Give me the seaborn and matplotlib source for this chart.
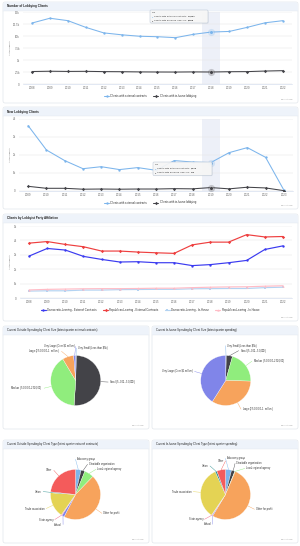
import numpy as np
import pandas as pd
import matplotlib
matplotlib.use("Agg")
import matplotlib.pyplot as plt
import seaborn as sns
from matplotlib.patches import FancyBboxPatch
from matplotlib.lines import Line2D

# ---------------- data ----------------
YEARS_TOTAL = list(range(2008, 2023))
EXT_CLIENTS = [12700, 13700, 13200, 11800, 10650, 10250, 9950, 9850, 9650, 10350, 10824, 10950, 11800, 12750, 13200]
INH_CLIENTS = [2600, 2660, 2620, 2640, 2580, 2560, 2520, 2500, 2490, 2520, 2498, 2560, 2580, 2700, 2780]

YEARS_NEW = list(range(2009, 2024))
NEW_EXT = [3630, 2280, 1690, 1240, 1350, 1190, 1300, 1150, 1690, 1610, 1579, 2130, 2410, 1870, 50]
NEW_INH = [260, 150, 150, 100, 110, 100, 110, 110, 130, 120, 190, 120, 210, 170, 20]

YEARS_PARTY = list(range(2008, 2023))
DEM_EXT = [2910, 3440, 3330, 2890, 2680, 2500, 2520, 2450, 2450, 2250, 2320, 2450, 2610, 3370, 3620]
REP_EXT = [3810, 3920, 3720, 3560, 3260, 3260, 3190, 3140, 3100, 3690, 3880, 3880, 4400, 4240, 4270]
DEM_INH = [480, 500, 500, 550, 550, 580, 590, 600, 600, 640, 650, 660, 660, 720, 750]
REP_INH = [560, 600, 620, 640, 650, 650, 660, 680, 680, 720, 750, 770, 780, 820, 850]

CLIENT_SERIES = ["Clients with external contracts", "Clients with in-house lobbying"]
PARTY_SERIES = ["Democratic-Leaning - External Contracts", "Republican-Leaning - External Contracts",
                "Democratic-Leaning - In-House", "Republican-Leaning - In-House"]

SIZE_LABELS = ["Very Small (Less than $5k)", "Small ($5,001 – $50,000)", "Medium ($50,001 – $250,000)",
               "Large ($250,001 – $1 million)", "Very Large (Over $1 million)"]
OUT_SIZE = [0.5, 50.0, 40.0, 7.2, 1.3]
INH_SIZE = [0.4, 4.0, 21.0, 33.6, 41.0]

TYPE_LABELS = ["Advocacy group", "Charitable organization", "Local regional agency", "Other for profit",
               "School", "State agency", "Trade association", "Union", "Other"]
OUT_TYPE = [3.6, 2.5, 6.1, 45.3, 1.7, 0.5, 16.4, 0.6, 23.3]
INH_TYPE = [3.9, 2.2, 0.3, 52.2, 0.6, 0.3, 33.8, 1.1, 5.6]

TITLES = ["Number of Lobbying Clients", "New Lobbying Clients", "Clients by Lobbyist Party Affiliation",
          "Current Outside Spending by Client Size (latest quarter external contracts)",
          "Current In-house Spending by Client Size (latest quarter spending)",
          "Current Outside Spending by Client Type (latest quarter external contracts)",
          "Current In-house Spending by Client Type (latest quarter spending)"]

# ---------------- style ----------------
sns.set_theme(style="white")
plt.rcParams["font.family"] = ["Liberation Sans", "DejaVu Sans"]
HC = ['#7cb5ec', '#434348', '#90ed7d', '#f7a35c', '#8085e9', '#f15c80', '#e4d354', '#2b908f', '#f45b5b', '#91e8e1']
PARTY_COLORS = ['#3a3af0', '#ee3f3f', '#b3d3f2', '#ffbcc6']
TXT = '#333333'
LBL = '#666666'

W, H = 300, 546
fig = plt.figure(figsize=(W / 100, H / 100), dpi=100)
fig.patch.set_facecolor('white')


def rect(x, y, w, h):
    return [x / W, 1 - (y + h) / H, w / W, h / H]


ax_bg = fig.add_axes([0, 0, 1, 1], zorder=-50)
ax_bg.set_xlim(0, W); ax_bg.set_ylim(H, 0); ax_bg.axis('off')
ax_fg = fig.add_axes([0, 0, 1, 1], zorder=50)
ax_fg.set_xlim(0, W); ax_fg.set_ylim(H, 0); ax_fg.axis('off')
ax_fg.patch.set_alpha(0)


def card(x, y, w, h, title, tsize=2.2, weight='bold'):
    ax_bg.add_patch(FancyBboxPatch((x, y), w, h, boxstyle="round,pad=0,rounding_size=2",
                                   fc='white', ec='#dfe3e9', lw=0.45))
    ax_bg.add_patch(FancyBboxPatch((x + 0.3, y + 0.3), w - 0.6, 8.2, boxstyle="round,pad=0,rounding_size=1.8",
                                   fc='#eef3fa', ec='none'))
    ax_bg.add_patch(plt.Rectangle((x + 0.3, y + 5), w - 0.6, 3.5, fc='#eef3fa', ec='none'))
    ax_bg.plot([x + 0.3, x + w - 0.3], [y + 8.5, y + 8.5], color='#e3e8ef', lw=0.3)
    ax_fg.text(x + 4, y + 4.5, title, fontsize=tsize, color='#222222', va='center', ha='left', weight=weight)
    ax_fg.text(x + w - 5, y + h - 4, "Highcharts.com", fontsize=1.3, color='#999999', ha='right', va='center')


def tooltip(x, y, w, h, head, rows):
    ax_fg.add_patch(FancyBboxPatch((x + 0.6, y + 0.6), w, h, boxstyle="round,pad=0,rounding_size=1",
                                   fc=(0, 0, 0, 0.06), ec='none'))
    ax_fg.add_patch(FancyBboxPatch((x, y), w, h, boxstyle="round,pad=0,rounding_size=1",
                                   fc=(0.97, 0.97, 0.97, 0.93), ec='#b8c4d4', lw=0.35))
    ax_fg.text(x + 2, y + 2.6, head, fontsize=1.3, color=TXT, va='center')
    for i, (c, lab, val) in enumerate(rows):
        yy = y + 6.6 + i * 3.9
        ax_fg.text(x + 2, yy, '●', fontsize=1.5, color=c, va='center')
        t = ax_fg.text(x + 4.3, yy, lab + ': ', fontsize=1.75, color=TXT, va='center')
        ax_fg.annotate(val, xy=(1, 0.5), xycoords=t, fontsize=1.75, color=TXT, va='center', ha='left', weight='bold')


def line_panel(px, years, names, values, colors, markers, ymax, ystep, fmt, legend_y, hover=None,
               lw=0.75, ms=1.7, ncol=2):
    ax = fig.add_axes(rect(*px))
    df = pd.concat([pd.DataFrame({'year': years, 'value': v, 'series': n}) for n, v in zip(names, values)],
                   ignore_index=True)
    if hover is not None:
        ax.axvspan(years[hover] - 0.5, years[hover] + 0.5, color='#ccd6eb', alpha=0.35, lw=0, zorder=0)
    sns.lineplot(data=df, x='year', y='value', hue='series', style='series', hue_order=names,
                 style_order=names, palette=dict(zip(names, colors)), markers=dict(zip(names, markers)),
                 dashes=False, lw=lw, markersize=ms, markeredgewidth=0, legend=False, ax=ax, zorder=3)
    if hover is not None:
        for v, c in zip(values, colors):
            ax.plot(years[hover], v[hover], 'o', ms=ms * 3, color=c, alpha=0.25, mew=0, zorder=4)
            ax.plot(years[hover], v[hover], 'o', ms=ms * 1.5, color=c, mec='white', mew=0.2, zorder=5)
    ax.set_xlim(years[0] - 0.5, years[-1] + 0.5)
    ax.set_ylim(0, ymax)
    ticks = np.arange(0, ymax + 1, ystep)
    ax.set_yticks(ticks)
    ax.set_yticklabels([fmt(t) for t in ticks])
    ax.set_xticks(years)
    ax.set_xticklabels([str(y) for y in years])
    ax.grid(axis='y', color='#e6e6e6', lw=0.35)
    ax.grid(axis='x', visible=False)
    for s in ['top', 'right', 'left']:
        ax.spines[s].set_visible(False)
    ax.spines['bottom'].set_color('#ccd6eb')
    ax.spines['bottom'].set_linewidth(0.4)
    ax.tick_params(axis='both', length=0, labelsize=2.1, labelcolor=LBL)
    ax.tick_params(axis='x', pad=1.3)
    ax.tick_params(axis='y', pad=2.2)
    ax.set_xlabel('')
    ax.set_ylabel('')
    ax.set_facecolor('none')
    handles = [Line2D([0], [0], color=c, marker=m, ms=ms, mew=0, lw=lw) for c, m in zip(colors, markers)]
    ax.legend(handles, names, loc='center', bbox_to_anchor=(150 / W, 1 - legend_y / H),
              bbox_transform=fig.transFigure, ncol=ncol, frameon=False, fontsize=2.0, handlelength=1.8,
              handletextpad=0.5, columnspacing=2.2, labelcolor=TXT)
    ax_fg.text(10, px[1] + px[3] / 2, 'Active Clients', rotation=90, fontsize=1.7, color=LBL,
               ha='center', va='center')
    return ax


def kfmt(step):
    def f(v):
        if v == 0:
            return '0'
        k = v / 1000
        return f"{k:g}k"
    return f


# ---------------- cards ----------------
card(3, 2, 295, 101, TITLES[0])
card(3, 107, 295, 102, TITLES[1])
card(3, 214, 295, 107, TITLES[2])
card(3, 326, 146, 103, TITLES[3], tsize=2.0, weight='normal')
card(152, 326, 146, 103, TITLES[4], tsize=2.0, weight='normal')
card(3, 440, 146, 103, TITLES[5], tsize=2.0, weight='normal')
card(152, 440, 146, 103, TITLES[6], tsize=2.0, weight='normal')

# ---------------- line charts ----------------
h1 = YEARS_TOTAL.index(2018)
line_panel((23, 12, 269, 72), YEARS_TOTAL, CLIENT_SERIES, [EXT_CLIENTS, INH_CLIENTS], HC[:2], ['o', 'D'],
           15000, 2500, kfmt(2500), 96, hover=h1)
tooltip(150, 10, 58, 13, str(YEARS_TOTAL[h1]),
        [(HC[0], CLIENT_SERIES[0], f"{EXT_CLIENTS[h1]:,}"), (HC[1], CLIENT_SERIES[1], f"{INH_CLIENTS[h1]:,}")])

h2 = YEARS_NEW.index(2019)
line_panel((19, 119, 274, 72), YEARS_NEW, CLIENT_SERIES, [NEW_EXT, NEW_INH], HC[:2], ['o', 'D'],
           4000, 1000, kfmt(1000), 202.5, hover=h2)
tooltip(153, 162, 59, 13.5, str(YEARS_NEW[h2]),
        [(HC[0], CLIENT_SERIES[0], f"{NEW_EXT[h2]:,}"), (HC[1], CLIENT_SERIES[1], f"{NEW_INH[h2]:,}")])

line_panel((20, 226, 272, 72), YEARS_PARTY, PARTY_SERIES, [DEM_EXT, REP_EXT, DEM_INH, REP_INH],
           PARTY_COLORS, ['o', 'D', 's', '^'], 5000, 1000, kfmt(1000), 309.5, lw=0.85, ncol=4)

# ---------------- pies ----------------
renderer = fig.canvas.get_renderer()


def pie_panel(card_x, card_w, cx, cy, r, labels, values, colors):
    ax = fig.add_axes(rect(cx - r, cy - r, 2 * r, 2 * r))
    wedges, _ = ax.pie(values, colors=colors, startangle=90, counterclock=False, radius=1,
                       wedgeprops=dict(edgecolor='white', linewidth=0.2))
    for wdg in wedges:
        wdg.set_clip_on(False)
    ax.set_xlim(-1, 1); ax.set_ylim(-1, 1)
    ax.axis('off')
    total = float(sum(values))
    cum = np.concatenate([[0], np.cumsum(values)]) / total * 360
    mids = (cum[:-1] + cum[1:]) / 2
    R = r + 7.5
    items = []
    for lab, m, c in zip(labels, mids, colors):
        rad = np.deg2rad(m)
        side = 1 if m < 180 else -1
        items.append(dict(lab=lab, rad=rad, c=c, side=side, y=cy - R * np.cos(rad)))
    gap = 5.0
    for side in (1, -1):
        grp = sorted([it for it in items if it['side'] == side], key=lambda d: d['y'])
        for _ in range(300):
            moved = False
            for a, b in zip(grp, grp[1:]):
                g = b['y'] - a['y']
                if g < gap - 1e-6:
                    d = (gap - g) / 2
                    a['y'] -= d
                    b['y'] += d
                    moved = True
            if not moved:
                break
    for it in items:
        dy = it['y'] - cy
        dx = np.sqrt(max(R * R - dy * dy, 0.0))
        xe = cx + it['side'] * dx
        ex = cx + r * np.sin(it['rad'])
        ey = cy - r * np.cos(it['rad'])
        ax_fg.plot([ex, xe], [ey, it['y']], color=it['c'], lw=0.3, solid_capstyle='round')
        lab = it['lab']
        t = ax_fg.text(xe + it['side'] * 1.3, it['y'], lab, ha='left' if it['side'] > 0 else 'right',
                       va='center', fontsize=1.85, color=TXT)
        lo, hi = card_x + 3, card_x + card_w - 3
        bb = t.get_window_extent(renderer)
        s = lab
        while (bb.x0 < lo or bb.x1 > hi) and len(s) > 3:
            s = s[:-1]
            t.set_text(s + '…')
            bb = t.get_window_extent(renderer)


pie_panel(3, 146, 75.7, 380.5, 25, SIZE_LABELS, OUT_SIZE, HC[:5])
pie_panel(152, 146, 225.7, 380.5, 25, SIZE_LABELS, INH_SIZE, HC[:5])
pie_panel(3, 146, 75.5, 494.5, 25, TYPE_LABELS, OUT_TYPE, HC[:9])
pie_panel(152, 146, 225.5, 494.5, 25, TYPE_LABELS, INH_TYPE, HC[:9])

fig.savefig('out.png', dpi=100, facecolor='white')
